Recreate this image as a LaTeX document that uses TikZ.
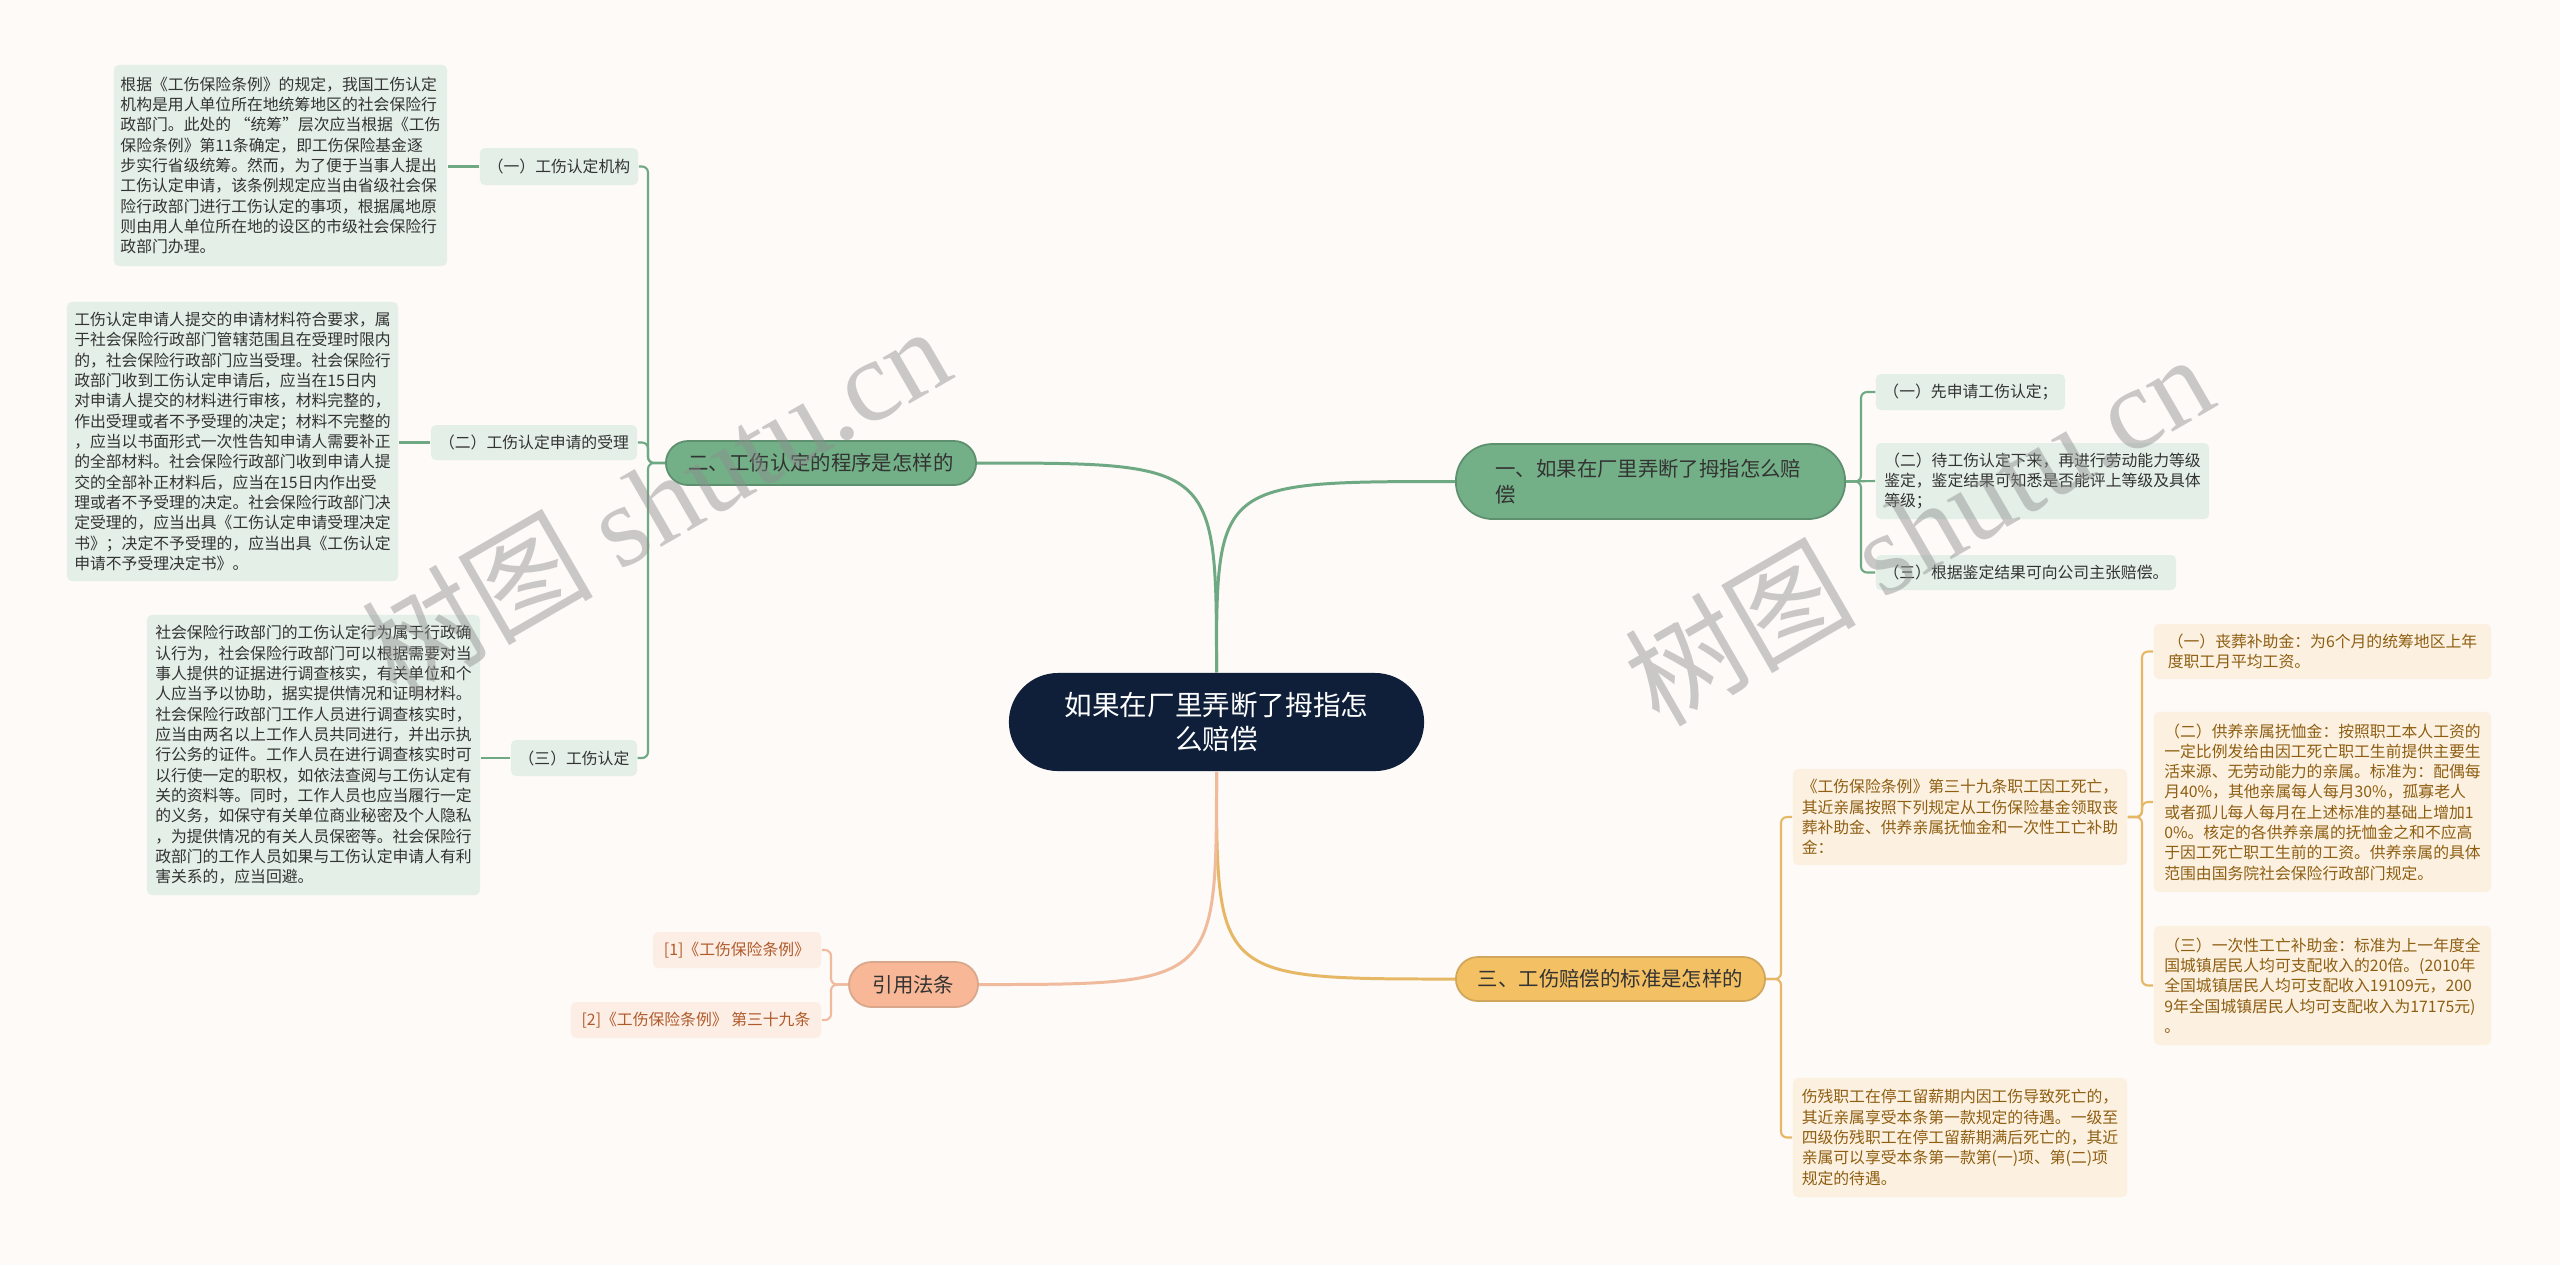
\documentclass[tikz,border=0pt]{standalone}
\usepackage{fontspec}
\setmainfont{Noto Sans CJK SC}
\newfontfamily\wmserif{Liberation Serif}
\definecolor{bg}{HTML}{FDFAF8}
\definecolor{navy}{HTML}{0F1F3A}
\definecolor{gMain}{HTML}{73B087}
\definecolor{gLine}{HTML}{6FA983}
\definecolor{gLeaf}{HTML}{E4EFE7}
\definecolor{oMain}{HTML}{F3C163}
\definecolor{oLine}{HTML}{E6B865}
\definecolor{oLeaf}{HTML}{FCF1E0}
\definecolor{oText}{HTML}{8E5E12}
\definecolor{sMain}{HTML}{F8B796}
\definecolor{sLine}{HTML}{F0BA9C}
\definecolor{sLeaf}{HTML}{FCEEE5}
\definecolor{sText}{HTML}{B05A2A}
\definecolor{txt}{HTML}{333333}
\tikzset{
  base/.style={inner sep=0pt, align=left},
  small/.style={font=\fontsize{4.5pt}{5.78pt}\selectfont},
  leafG/.style={base, small, fill=gLeaf, rounded corners=0.05cm, text=txt},
  leafO/.style={base, small, fill=oLeaf, rounded corners=0.05cm, text=oText},
  leafS/.style={base, small, fill=sLeaf, rounded corners=0.05cm, text=sText},
  branch/.style={base, text=txt, font=\fontsize{5.8pt}{7.4pt}\selectfont, line width=0.5pt},
  branchG/.style={branch, fill=gMain, draw=gLine!85!black},
  branchO/.style={branch, fill=oMain, draw=oLine!90!black},
  branchS/.style={branch, fill=sMain, draw=sLine!90!black},
  rootbox/.style={base, align=center, fill=navy, text=white, font=\fontsize{7.85pt}{9.7pt}\selectfont},
  mainG/.style={draw=gLine, line width=0.85pt},
  mainO/.style={draw=oLine, line width=0.85pt},
  mainS/.style={draw=sLine, line width=0.85pt},
  subG/.style={draw=gLine, line width=0.6pt, rounded corners=0.06cm},
  subO/.style={draw=oLine, line width=0.6pt, rounded corners=0.06cm},
  subS/.style={draw=sLine, line width=0.6pt, rounded corners=0.06cm},
  wmark/.style={rotate=30, text=black!45, opacity=0.45, font=\fontsize{33pt}{33pt}\selectfont}
}
\begin{document}
\begin{tikzpicture}[x=0.01cm, y=-0.01cm]
\useasboundingbox (0,0) rectangle (2560,1265);
\fill[bg] (0,0) rectangle (2560,1265);

% root
\node[rootbox, minimum width=4.15cm, minimum height=0.98cm, rounded corners=0.49cm] (c) at (1216.5,722) {如果在厂里弄断了拇指怎\\么赔偿};

% branches
\node[branchG, minimum width=3.89cm, minimum height=0.75cm, rounded corners=0.37cm, text width=3.1cm] (b1) at (1650.5,481.5) {一、如果在厂里弄断了拇指怎么赔\\偿};
\node[branchG, minimum width=3.10cm, minimum height=0.44cm, rounded corners=0.22cm, align=center] (b2) at (821,463) {二、工伤认定的程序是怎样的};
\node[branchO, minimum width=3.09cm, minimum height=0.44cm, rounded corners=0.22cm, align=center] (b3) at (1610.5,979) {三、工伤赔偿的标准是怎样的};
\node[branchS, minimum width=1.29cm, minimum height=0.45cm, rounded corners=0.225cm, align=center] (b4) at (913.5,984.5) {引用法条};

% branch 1 children
\node[leafG, minimum width=1.89cm, minimum height=0.36cm] (c11) at (1970.5,392) {（一）先申请工伤认定；};
\node[leafG, minimum width=3.33cm, minimum height=0.76cm] (c12) at (2042.5,481) {（二）待工伤认定下来，再进行劳动能力等级\\鉴定，鉴定结果可知悉是否能评上等级及具体\\等级；};
\node[leafG, minimum width=3.00cm, minimum height=0.35cm] (c13) at (2026,572.5) {（三）根据鉴定结果可向公司主张赔偿。};

% branch 2 children
\node[leafG, minimum width=1.58cm, minimum height=0.37cm] (c21) at (559,166.5) {（一）工伤认定机构};
\node[leafG, minimum width=2.06cm, minimum height=0.35cm] (c22) at (534,442.5) {（二）工伤认定申请的受理};
\node[leafG, minimum width=1.26cm, minimum height=0.36cm] (c23) at (574,758) {（三）工伤认定};

\node[leafG, minimum width=3.33cm, minimum height=2.01cm] (l21) at (280.5,165.5) {根据《工伤保险条例》的规定，我国工伤认定\\机构是用人单位所在地统筹地区的社会保险行\\政部门。此处的 “统筹"层次应当根据《工伤\\保险条例》第11条确定，即工伤保险基金逐\\步实行省级统筹。然而，为了便于当事人提出\\工伤认定申请，该条例规定应当由省级社会保\\险行政部门进行工伤认定的事项，根据属地原\\则由用人单位所在地的设区的市级社会保险行\\政部门办理。};
\node[leafG, minimum width=3.31cm, minimum height=2.79cm] (l22) at (232.5,441.5) {工伤认定申请人提交的申请材料符合要求，属\\于社会保险行政部门管辖范围且在受理时限内\\的，社会保险行政部门应当受理。社会保险行\\政部门收到工伤认定申请后，应当在15日内\\对申请人提交的材料进行审核，材料完整的，\\作出受理或者不予受理的决定；材料不完整的\\，应当以书面形式一次性告知申请人需要补正\\的全部材料。社会保险行政部门收到申请人提\\交的全部补正材料后，应当在15日内作出受\\理或者不予受理的决定。社会保险行政部门决\\定受理的，应当出具《工伤认定申请受理决定\\书》；决定不予受理的，应当出具《工伤认定\\申请不予受理决定书》。};
\node[leafG, minimum width=3.33cm, minimum height=2.80cm] (l23) at (313.5,755) {社会保险行政部门的工伤认定行为属于行政确\\认行为，社会保险行政部门可以根据需要对当\\事人提供的证据进行调查核实，有关单位和个\\人应当予以协助，据实提供情况和证明材料。\\社会保险行政部门工作人员进行调查核实时，\\应当由两名以上工作人员共同进行，并出示执\\行公务的证件。工作人员在进行调查核实时可\\以行使一定的职权，如依法查阅与工伤认定有\\关的资料等。同时，工作人员也应当履行一定\\的义务，如保守有关单位商业秘密及个人隐私\\，为提供情况的有关人员保密等。社会保险行\\政部门的工作人员如果与工伤认定申请人有利\\害关系的，应当回避。};

% branch 3 children
\node[leafO, minimum width=3.34cm, minimum height=0.96cm] (l31) at (1960,817) {《工伤保险条例》第三十九条职工因工死亡，\\其近亲属按照下列规定从工伤保险基金领取丧\\葬补助金、供养亲属抚恤金和一次性工亡补助\\金：};
\node[leafO, minimum width=3.34cm, minimum height=1.19cm] (l32) at (1960,1137.5) {伤残职工在停工留薪期内因工伤导致死亡的，\\其近亲属享受本条第一款规定的待遇。一级至\\四级伤残职工在停工留薪期满后死亡的，其近\\亲属可以享受本条第一款第(一)项、第(二)项\\规定的待遇。};
\node[leafO, minimum width=3.37cm, minimum height=0.55cm] (l311) at (2322.5,651.5) {（一）丧葬补助金：为6个月的统筹地区上年\\度职工月平均工资。};
\node[leafO, minimum width=3.37cm, minimum height=1.80cm] (l312) at (2322.5,802) {（二）供养亲属抚恤金：按照职工本人工资的\\一定比例发给由因工死亡职工生前提供主要生\\活来源、无劳动能力的亲属。标准为：配偶每\\月40\%，其他亲属每人每月30\%，孤寡老人\\或者孤儿每人每月在上述标准的基础上增加1\\0\%。核定的各供养亲属的抚恤金之和不应高\\于因工死亡职工生前的工资。供养亲属的具体\\范围由国务院社会保险行政部门规定。};
\node[leafO, minimum width=3.37cm, minimum height=1.19cm] (l313) at (2322.5,985.5) {（三）一次性工亡补助金：标准为上一年度全\\国城镇居民人均可支配收入的20倍。(2010年\\全国城镇居民人均可支配收入19109元，200\\9年全国城镇居民人均可支配收入为17175元)\\。};

% branch 4 children
\node[leafS, minimum width=1.68cm, minimum height=0.36cm] (r1) at (737,950) {[1]《工伤保险条例》};
\node[leafS, minimum width=2.50cm, minimum height=0.36cm] (r2) at (696,1020) {[2]《工伤保险条例》 第三十九条};

% main connectors
\draw[mainG] (c.north) .. controls (c.north |- b1.west) .. (b1.west);
\draw[mainG] (c.north) .. controls (c.north |- b2.east) .. (b2.east);
\draw[mainO] (c.south) .. controls (c.south |- b3.west) .. (b3.west);
\draw[mainS] (c.south) .. controls (c.south |- b4.east) .. (b4.east);

% branch 1 bus
\draw[subG] (b1.east) -| (1861,392) -- (c11.west);
\draw[subG] (b1.east) -- (c12.west);
\draw[subG] (b1.east) -| (1861,572.5) -- (c13.west);

% branch 2 bus
\draw[subG] (b2.west) -| (648,166.5) -- (c21.east);
\draw[subG] (b2.west) -| (648,442.5) -- (c22.east);
\draw[subG] (b2.west) -| (648,758) -- (c23.east);
\draw[subG] (c21.west) -- (l21.east |- c21.west);
\draw[subG] (c22.west) -- (l22.east |- c22.west);
\draw[subG] (c23.west) -- (l23.east |- c23.west);

% branch 3 bus
\draw[subO] (b3.east) -| (1781,817) -- (l31.west);
\draw[subO] (b3.east) -| (1781,1137.5) -- (l32.west);
\draw[subO] (l31.east) -| (2142,651.5) -- (l311.west);
\draw[subO] (l31.east) -| (2142,802) -- (l312.west);
\draw[subO] (l31.east) -| (2142,985.5) -- (l313.west);

% branch 4 bus
\draw[subS] (b4.west) -| (831,950) -- (r1.east);
\draw[subS] (b4.west) -| (831,1020) -- (r2.east);

% watermarks
\node[wmark] (wm1) at (655,500) {树图 {\wmserif shutu.cn}};
\node[wmark] (wm2) at (1918,528) {树图 {\wmserif shutu.cn}};
\end{tikzpicture}
\end{document}
